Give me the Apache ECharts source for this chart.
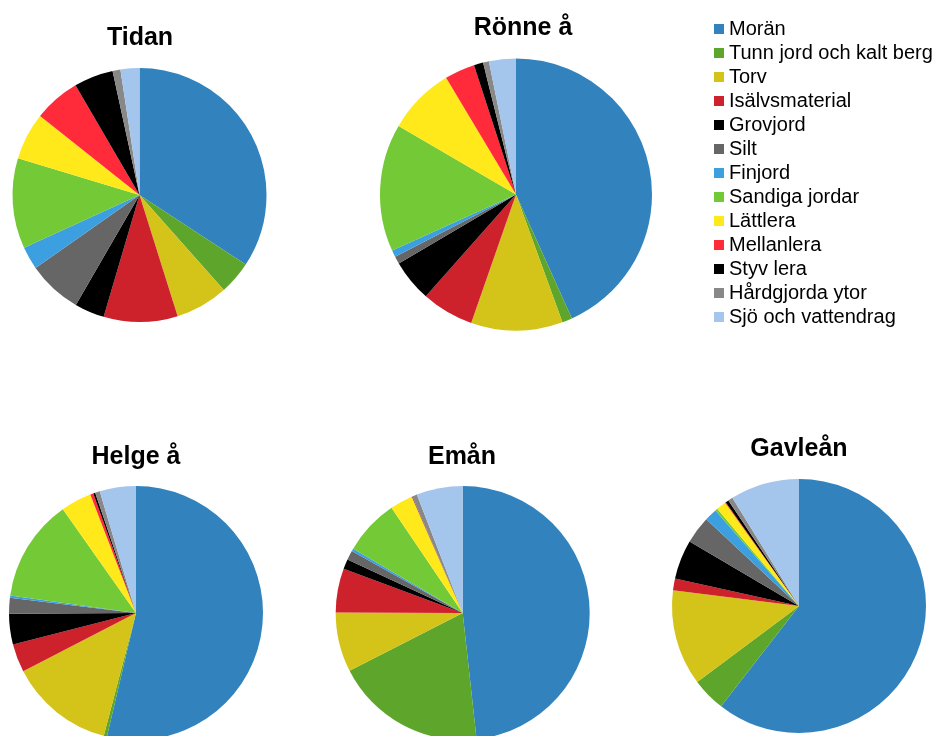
<!DOCTYPE html>
<html>
<head>
<meta charset="utf-8">
<script src="https://cdn.jsdelivr.net/npm/echarts@6/dist/echarts.min.js"></script>
<style>
  html, body { margin: 0; padding: 0; background: #fff; }
  #chart { width: 940px; height: 736px; }
</style>
</head>
<body>
<div id="chart"></div>
<script>
// Soil types (jordarter), in slice order clockwise from 12 o'clock
const categories = [
  'Morän', 'Tunn jord och kalt berg', 'Torv', 'Isälvsmaterial', 'Grovjord',
  'Silt', 'Finjord', 'Sandiga jordar', 'Lättlera', 'Mellanlera',
  'Styv lera', 'Hårdgjorda ytor', 'Sjö och vattendrag'
];
const colors = [
  '#3182bd', '#5da62b', '#d4c318', '#cd212c', '#000000',
  '#666666', '#3c9fe0', '#74c936', '#ffe91a', '#ff2b3b',
  '#000000', '#888888', '#a4c6ec'
];

// Share of catchment area per soil type (%)
const catchments = ['Tidan', 'Rönne å', 'Helge å', 'Emån', 'Gavleån'];
const tidan   = [34.2, 4.2, 6.7, 9.4, 3.8, 6.9, 2.9, 11.5, 6.0, 5.9, 5.0, 1.0, 2.4];
const ronne   = [43.3, 1.2, 10.9, 6.2, 5.0, 0.9, 0.8, 15.2, 8.0, 3.6, 1.1, 0.7, 3.2];
const helge   = [53.6, 0.4, 13.3, 3.6, 3.9, 2.0, 0.3, 13.0, 3.9, 0.4, 0.25, 0.6, 4.6];
const eman    = [48.4, 19.3, 7.6, 5.6, 1.25, 1.2, 0.35, 7.1, 2.9, 0.05, 0.05, 0.6, 5.9];
const gavlean = [60.6, 4.3, 12.2, 1.5, 5.0, 3.5, 1.6, 0.3, 1.25, 0.1, 0.4, 0.6, 8.8];
const values = [tidan, ronne, helge, eman, gavlean];

// Layout of each pie: centre, radius and title position
const layout = [
  { center: [139.5, 195], r: 127, title: [140, 26] },
  { center: [516, 194.5], r: 136, title: [523, 16] },
  { center: [136, 613], r: 127, title: [136, 445] },
  { center: [462.7, 613], r: 127, title: [462, 445] },
  { center: [799, 606], r: 127, title: [799, 437] }
];

const FONT = '"Liberation Sans", Arial, sans-serif';

const chart = echarts.init(document.getElementById('chart'), null, { renderer: 'canvas' });

chart.setOption({
  animation: false,
  color: colors,
  title: catchments.map((name, i) => ({
    text: name,
    left: layout[i].title[0],
    top: layout[i].title[1],
    textAlign: 'center',
    padding: 0,
    textStyle: {
      fontFamily: FONT,
      fontSize: 25,
      fontWeight: 'bold',
      color: '#000',
      lineHeight: 25
    }
  })),
  legend: {
    orient: 'vertical',
    left: 714,
    top: 19,
    padding: 0,
    itemGap: 4,
    itemWidth: 10,
    itemHeight: 10,
    icon: 'rect',
    selectedMode: false,
    data: categories,
    textStyle: {
      fontFamily: FONT,
      fontSize: 20,
      color: '#000',
      lineHeight: 20
    }
  },
  series: catchments.map((name, i) => ({
    type: 'pie',
    name: name,
    center: layout[i].center,
    radius: layout[i].r,
    startAngle: 90,
    clockwise: true,
    label: { show: false },
    labelLine: { show: false },
    emphasis: { disabled: true },
    itemStyle: { borderWidth: 0 },
    data: categories.map((c, k) => ({ name: c, value: values[i][k] }))
  }))
});
</script>
</body>
</html>
